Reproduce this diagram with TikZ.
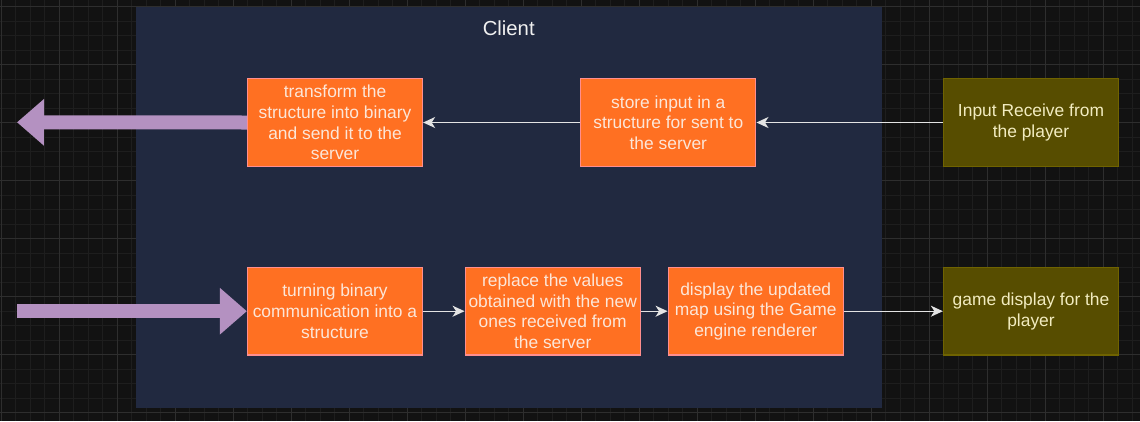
\documentclass[tikz,border=0pt]{standalone}
\usepackage{fontspec}
\setmainfont{Liberation Sans}
\usetikzlibrary{arrows.meta}
\definecolor{canvas}{HTML}{121212}
\definecolor{minorgrid}{HTML}{1E1E1E}
\definecolor{majorgrid}{HTML}{2E2E2E}
\definecolor{clientfill}{HTML}{212940}
\definecolor{procfill}{HTML}{FF7022}
\definecolor{procline}{HTML}{FF8E8E}
\definecolor{proctext}{HTML}{FCE6D8}
\definecolor{extfill}{HTML}{574D00}
\definecolor{extline}{HTML}{6F6300}
\definecolor{exttext}{HTML}{F2ECC0}
\definecolor{flowcol}{HTML}{E4E4E4}
\definecolor{netfill}{HTML}{B491C1}
\begin{document}
\begin{tikzpicture}[x=1pt, y=-1pt,
  every node/.style = {align=center, font=\fontsize{17.4}{20.7}\selectfont},
  process/.style = {rectangle, draw=procline, fill=procfill, text=proctext,
    line width=1.3pt, minimum width=175pt, minimum height=87.5pt, inner sep=0pt},
  ext/.style = {process, draw=extline, fill=extfill, text=exttext},
  container/.style = {rectangle, fill=clientfill, minimum width=745.4pt,
    minimum height=401pt, inner sep=0pt},
  flow/.style = {draw=flowcol, line width=1.4pt,
    -{Stealth[length=12pt, width=11pt, inset=3.5pt]}},
  bigarrow/.style = {draw=netfill, line width=14pt,
    -{Triangle[length=27pt, width=45pt]}}
  ]
  \useasboundingbox[fill=canvas] (0,0) rectangle (1140,421);
  % grid
  \foreach \k in {0,...,78}
    \draw[minorgrid, line width=0.9pt] ({1.3+14.5*\k},0) -- ({1.3+14.5*\k},421);
  \foreach \k in {0,...,28}
    \draw[minorgrid, line width=0.9pt] (0,{6.7+14.5*\k}) -- (1140,{6.7+14.5*\k});
  \foreach \k in {0,...,19}
    \draw[majorgrid, line width=1pt] ({1.3+58*\k},0) -- ({1.3+58*\k},421);
  \foreach \k in {0,...,7}
    \draw[majorgrid, line width=1pt] (0,{6.7+58*\k}) -- (1140,{6.7+58*\k});

  \node[container] (client) at (509,207.2) {};
  \node[text=white!94!black, font=\fontsize{20.3}{24}\selectfont]
    (clienttitle) at (508.7,28.3) {Client};

  % upper row
  \node[process] (transform) at (335,122.5)
    {transform the\\structure into binary\\and send it to the\\server};
  \node[process] (store) at (668.3,122.5)
    {store input in a\\structure for sent to\\the server};
  \node[ext] (input) at (1031,122.5) {Input Receive from\\the player};

  % lower row
  \node[process] (decode) at (335,311.2)
    {turning binary\\communication into a\\structure};
  \node[process] (replace) at (552.7,311.2)
    {replace the values\\obtained with the new\\ones received from\\the server};
  \node[process] (display) at (755.7,311.2)
    {display the updated\\map using the Game\\engine renderer};
  \node[ext] (gamedisp) at (1031,311.2) {game display for the\\player};

  \coordinate (outgoing) at (17,122.3);
  \coordinate (incoming) at (17,311.2);

  \draw[flow] (input) -- (store);
  \draw[flow] (store) -- (transform);
  \draw[flow] (decode) -- (replace);
  \draw[flow] (replace) -- (display);
  \draw[flow] (display) -- (gamedisp);

  \draw[bigarrow] (transform.west) -- (outgoing);
  \draw[bigarrow] (incoming) -- (decode.west);
\end{tikzpicture}
\end{document}
